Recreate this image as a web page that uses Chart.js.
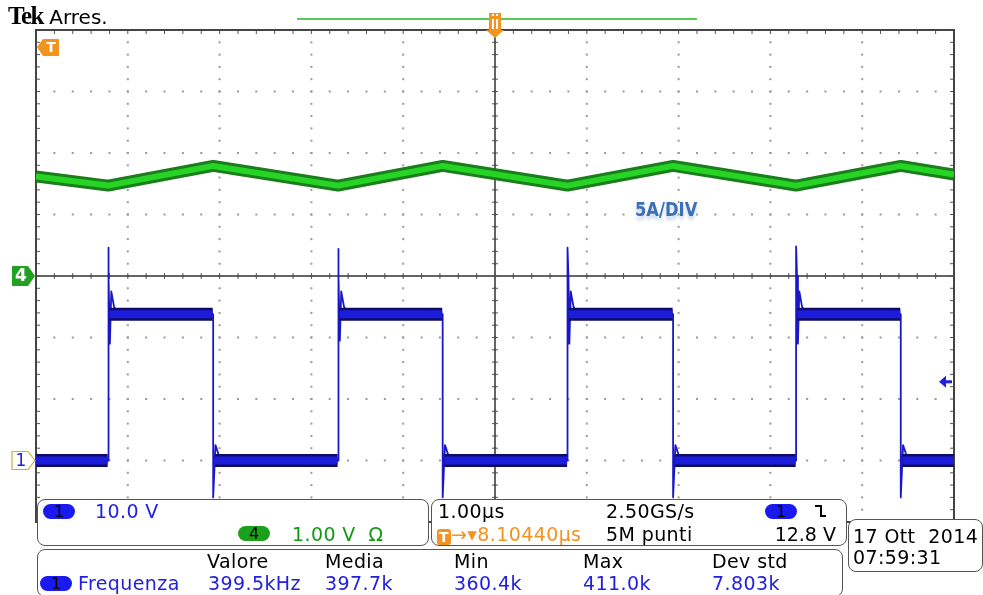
<!DOCTYPE html>
<html>
<head>
<meta charset="utf-8">
<script src="https://cdn.jsdelivr.net/npm/chart.js@4"></script>
<style>
  body { margin: 0; background: #fff; overflow: hidden; }
  #wrap { position: relative; width: 983px; height: 595px; font-family: "DejaVu Sans", sans-serif; }
  #scope { position: absolute; left: 0; top: 0; }
  .box { position: absolute; border: 1.5px solid #555; border-radius: 8px; background: #fff; box-sizing: border-box; }
  .t { position: absolute; font-size: 19px; letter-spacing: 0.4px; line-height: 20px; white-space: nowrap; }
  .blue { color: #2020e0; }
  .green { color: #119911; }
  .orange { color: #f39320; }
  .pill { position: absolute; height: 15px; width: 32px; border-radius: 8px; font-size: 16px; line-height: 15px; text-align: center; color: #000; }
</style>
</head>
<body>
<div id="wrap">
  <canvas id="scope" width="983" height="595"></canvas>

  <div class="t" style="left:8px;top:6px;font-size:20px;letter-spacing:0"><span style="font-family:'Liberation Serif';font-weight:bold;font-size:25px;letter-spacing:-1.5px">Tek</span> Arres.</div>
  <div class="t" style="left:635px;top:199px;font-size:19px;font-weight:bold;color:#3d6fb8;transform:scaleX(0.86);transform-origin:left;text-shadow:0 4px 4px #c8d6ea;letter-spacing:0">5A/DIV</div>

  <div class="box" style="left:37px;top:499px;width:392px;height:47px"></div>
  <div class="pill" style="left:43px;top:504px;background:#1a1aee">1</div>
  <div class="t blue" style="left:95px;top:501px">10.0 V</div>
  <div class="pill" style="left:238px;top:526px;background:#1aa01a">4</div>
  <div class="t green" style="left:292px;top:524px">1.00 V&nbsp;&nbsp;Ω</div>

  <div class="box" style="left:431px;top:499px;width:416px;height:47px"></div>
  <div class="t" style="left:438px;top:501px">1.00µs</div>
  <div class="t" style="left:606px;top:501px">2.50GS/s</div>
  <div class="pill" style="left:765px;top:504px;background:#1a1aee">1</div>
  <svg style="position:absolute;left:813px;top:503px" width="16" height="16"><polyline points="2,3 8,3 8,13 13,13" fill="none" stroke="#000" stroke-width="2"/></svg>
  <div class="t orange" style="left:437px;top:524px"><span style="display:inline-block;background:#f39320;color:#fff;border-radius:3px;width:14px;height:16px;line-height:16px;text-align:center;font-size:14px;font-weight:bold;vertical-align:-1px">T</span>→▾8.10440µs</div>
  <div class="t" style="left:606px;top:524px">5M punti</div>
  <div class="t" style="right:147px;top:524px;letter-spacing:0">12.8 V</div>

  <div class="box" style="left:848px;top:519px;width:135px;height:53px"></div>
  <div class="t" style="left:853px;top:526px">17 Ott&nbsp;&nbsp;2014</div>
  <div class="t" style="left:853px;top:547px">07:59:31</div>

  <div class="box" style="left:37px;top:549px;width:806px;height:48px"></div>
  <div class="t" style="left:207px;top:551px">Valore</div>
  <div class="t" style="left:325px;top:551px">Media</div>
  <div class="t" style="left:454px;top:551px">Min</div>
  <div class="t" style="left:583px;top:551px">Max</div>
  <div class="t" style="left:712px;top:551px">Dev std</div>
  <div class="pill" style="left:40px;top:576px;background:#1a1aee">1</div>
  <div class="t blue" style="left:78px;top:573px">Frequenza</div>
  <div class="t blue" style="left:208px;top:573px">399.5kHz</div>
  <div class="t blue" style="left:325px;top:573px">397.7k</div>
  <div class="t blue" style="left:454px;top:573px">360.4k</div>
  <div class="t blue" style="left:583px;top:573px">411.0k</div>
  <div class="t blue" style="left:712px;top:573px">7.803k</div>
</div>

<script>
// time axis: 1.00 µs/div, 10 divisions
const timeMin = 0;
const timeMax = 10;

// channel 4 (coil current), 5 A/div, ground at centre line
const ch4Scale = 5;
const ch4Time = [0, 0.785, 1.93, 3.29, 4.43, 5.79, 6.94, 8.28, 9.42, 10];
const ch4Amps = [8.1, 7.35, 8.95, 7.35, 8.95, 7.35, 8.95, 7.35, 8.95, 8.25];

// channel 1 (switch node), 10 V/div, ground 3 div below centre
const ch1Scale = 10;
const ch1Offset = -3;
const ch1Time = [
  0, 0.785, 0.785, 0.795, 0.805, 0.82, 0.85, 0.90, 1.93, 1.93, 1.955, 2.0, 2.05,
  3.29, 3.29, 3.30, 3.31, 3.325, 3.355, 3.405, 4.43, 4.43, 4.455, 4.5, 4.55,
  5.79, 5.79, 5.80, 5.81, 5.825, 5.855, 5.905, 6.94, 6.94, 6.965, 7.01, 7.06,
  8.28, 8.28, 8.29, 8.30, 8.315, 8.345, 8.395, 9.42, 9.42, 9.445, 9.49, 9.54, 10
];
const ch1Volts = [
  0, 0, 34.6, 30, 19, 27.5, 25, 23.8, 23.8, -6, 2.5, 0.5, 0,
  0, 34.4, 30, 19.5, 27.5, 25, 23.8, 23.8, -6, 2.5, 0.5, 0,
  0, 34.6, 30, 19, 27.5, 25, 23.8, 23.8, -6, 2.5, 0.5, 0,
  0, 34.8, 30, 19, 27.5, 25, 23.8, 23.8, -6, 2.5, 0.5, 0, 0
];
// noisy plateaus of channel 1 (drawn as a wide band), null = break
const ch1BandTime = [0, 0.78, 0.785, 0.80, 1.925, 1.93, 1.95, 3.285, 3.29, 3.305, 4.425, 4.43, 4.45, 5.785, 5.79, 5.805, 6.935, 6.94, 6.96, 8.275, 8.28, 8.295, 9.415, 9.42, 9.44, 10];
const ch1BandVolts = [0, 0, null, 23.8, 23.8, null, 0, 0, null, 23.8, 23.8, null, 0, 0, null, 23.8, 23.8, null, 0, 0, null, 23.8, 23.8, null, 0, 0];

const trigLevel = 12.8; // V

const ch4Pts = ch4Time.map((t, i) => ({ x: t, y: ch4Amps[i] / ch4Scale }));
const ch1Pts = ch1Time.map((t, i) => ({ x: t, y: ch1Volts[i] / ch1Scale + ch1Offset }));
const ch1Band = ch1BandTime.map((t, i) => ({ x: t, y: ch1BandVolts[i] === null ? null : ch1BandVolts[i] / ch1Scale + ch1Offset }));

function trace(data, color, width, order) {
  return { data: data, borderColor: color, borderWidth: width, pointRadius: 0, tension: 0, fill: false, spanGaps: false, borderJoinStyle: 'round', order: order };
}

const graticule = {
  id: 'graticule',
  beforeDatasetsDraw(chart) {
    const ctx = chart.ctx, xs = chart.scales.x, ys = chart.scales.y, a = chart.chartArea;
    ctx.save();
    ctx.fillStyle = '#999';
    for (let i = 0; i <= 10; i++) {
      const px = xs.getPixelForValue(i);
      for (let j = 0; j <= 40; j++) ctx.fillRect(px - 1, ys.getPixelForValue(-4 + j * 0.2) - 1, 2, 2);
    }
    for (let i = -4; i <= 4; i++) {
      const py = ys.getPixelForValue(i);
      for (let j = 0; j <= 50; j++) ctx.fillRect(xs.getPixelForValue(j * 0.2) - 1, py - 1, 2, 2);
    }
    // centre cross with minor ticks
    const cx = xs.getPixelForValue(5), cy = ys.getPixelForValue(0);
    ctx.strokeStyle = '#333';
    ctx.lineWidth = 1.5;
    ctx.beginPath();
    ctx.moveTo(a.left, cy); ctx.lineTo(a.right, cy);
    ctx.moveTo(cx, a.top); ctx.lineTo(cx, a.bottom);
    ctx.stroke();
    ctx.lineWidth = 1;
    ctx.strokeStyle = '#555';
    ctx.beginPath();
    for (let j = 0; j <= 50; j++) {
      const px = xs.getPixelForValue(j * 0.2);
      ctx.moveTo(px, cy - 3); ctx.lineTo(px, cy + 3);
      ctx.moveTo(px, a.top); ctx.lineTo(px, a.top + 4);
    }
    for (let j = 0; j <= 40; j++) {
      const py = ys.getPixelForValue(-4 + j * 0.2);
      ctx.moveTo(cx - 3, py); ctx.lineTo(cx + 3, py);
      ctx.moveTo(a.left, py); ctx.lineTo(a.left + 4, py);
      ctx.moveTo(a.right, py); ctx.lineTo(a.right - 4, py);
    }
    ctx.stroke();
    ctx.strokeStyle = '#444';
    ctx.lineWidth = 2;
    ctx.strokeRect(a.left, a.top, a.right - a.left, a.bottom - a.top);
    ctx.restore();
  },
  afterDraw(chart) {
    const ctx = chart.ctx, xs = chart.scales.x, ys = chart.scales.y, a = chart.chartArea;
    ctx.save();
    // record view bar
    ctx.strokeStyle = '#5cc85c';
    ctx.lineWidth = 2;
    ctx.beginPath(); ctx.moveTo(297, 19); ctx.lineTo(697, 19); ctx.stroke();
    // trigger position marker
    const tx = xs.getPixelForValue(5);
    ctx.fillStyle = '#f39320';
    ctx.beginPath();
    ctx.moveTo(tx - 6, 13); ctx.lineTo(tx + 6, 13); ctx.lineTo(tx + 6, 30); ctx.lineTo(tx + 9, 30);
    ctx.lineTo(tx, 38); ctx.lineTo(tx - 9, 30); ctx.lineTo(tx - 6, 30); ctx.closePath(); ctx.fill();
    ctx.fillStyle = '#fff';
    ctx.fillRect(tx - 3, 19, 2, 10); ctx.fillRect(tx + 1, 19, 2, 10);
    ctx.fillRect(tx - 3, 14, 2, 2); ctx.fillRect(tx + 1, 14, 2, 2);
    // T marker top-left
    ctx.fillStyle = '#f39320';
    ctx.beginPath();
    ctx.moveTo(a.left + 1, 47); ctx.lineTo(a.left + 7, 39); ctx.lineTo(a.left + 23, 39);
    ctx.lineTo(a.left + 23, 56); ctx.lineTo(a.left + 7, 56); ctx.closePath(); ctx.fill();
    ctx.fillStyle = '#fff';
    ctx.font = 'bold 14px "DejaVu Sans"';
    ctx.textAlign = 'center'; ctx.textBaseline = 'middle';
    ctx.fillText('T', a.left + 15, 48);
    // ch4 ground marker
    const g4 = ys.getPixelForValue(0);
    ctx.fillStyle = '#22a022';
    ctx.beginPath();
    ctx.moveTo(12, g4 - 10); ctx.lineTo(28, g4 - 10); ctx.lineTo(35, g4); ctx.lineTo(28, g4 + 10); ctx.lineTo(12, g4 + 10); ctx.closePath(); ctx.fill();
    ctx.fillStyle = '#fff';
    ctx.font = 'bold 17px "DejaVu Sans"';
    ctx.fillText('4', 21, g4 + 1);
    // ch1 ground marker
    const g1 = ys.getPixelForValue(ch1Offset);
    ctx.fillStyle = '#fff';
    ctx.strokeStyle = '#c8b040';
    ctx.lineWidth = 1.2;
    ctx.beginPath();
    ctx.moveTo(12, g1 - 9); ctx.lineTo(28, g1 - 9); ctx.lineTo(35, g1); ctx.lineTo(28, g1 + 9); ctx.lineTo(12, g1 + 9); ctx.closePath(); ctx.fill(); ctx.stroke();
    ctx.fillStyle = '#2020e0';
    ctx.font = '17px "DejaVu Sans"';
    ctx.fillText('1', 21, g1 + 1);
    // trigger level arrow
    const tl = ys.getPixelForValue(trigLevel / ch1Scale + ch1Offset);
    ctx.fillStyle = '#2020e0';
    ctx.beginPath();
    ctx.moveTo(a.right - 15, tl); ctx.lineTo(a.right - 8, tl - 6); ctx.lineTo(a.right - 8, tl + 6); ctx.closePath(); ctx.fill();
    ctx.fillRect(a.right - 9, tl - 1.5, 7, 3);
    ctx.restore();
  }
};

new Chart(document.getElementById('scope'), {
  type: 'line',
  data: {
    datasets: [
      trace(ch4Pts, '#1b7d1b', 12, 5),
      trace(ch4Pts, '#25d425', 6, 4),
      trace(ch1Pts, '#1818c8', 1.8, 3),
      trace(ch1Band, '#0c0c66', 13, 2),
      trace(ch1Band, '#1c1cdc', 8, 1)
    ]
  },
  options: {
    responsive: false,
    animation: false,
    layout: { padding: { left: 36, top: 30, right: 29, bottom: 73 } },
    plugins: { legend: { display: false }, tooltip: { enabled: false } },
    scales: {
      x: { type: 'linear', min: timeMin, max: timeMax, display: false },
      y: { type: 'linear', min: -4, max: 4, display: false }
    }
  },
  plugins: [graticule]
});
</script>
</body>
</html>
